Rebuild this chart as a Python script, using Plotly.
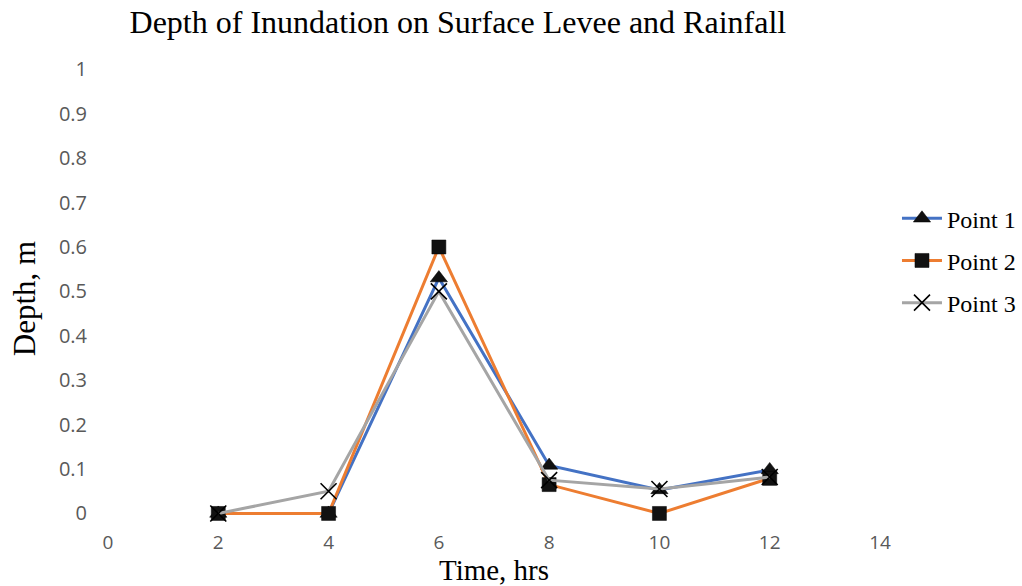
import plotly.graph_objects as go

time_hrs = [2, 4, 6, 8, 10, 12]
point1 = [0.0, 0.0, 0.53, 0.108, 0.053, 0.098]
point2 = [0.0, 0.0, 0.60, 0.065, 0.0, 0.079]
point3 = [0.0, 0.05, 0.50, 0.075, 0.055, 0.082]
series_names = ["Point 1", "Point 2", "Point 3"]
x_ticks = [0, 2, 4, 6, 8, 10, 12, 14]
y_ticks = [0, 0.1, 0.2, 0.3, 0.4, 0.5, 0.6, 0.7, 0.8, 0.9, 1]

SERIF = "Liberation Serif, Times New Roman, serif"
SANS = "Open Sans, Lato, sans-serif"

fig = go.Figure()
styles = [
    dict(color="#4472C4", symbol="triangle-up", size=15, lw=0.5),
    dict(color="#ED7D31", symbol="square", size=14, lw=0.5),
    dict(color="#A5A5A5", symbol="x-thin", size=16, lw=1.6),
]
for name, vals, st in zip(series_names, [point1, point2, point3], styles):
    fig.add_trace(go.Scatter(
        x=time_hrs, y=vals, name=name, legendgroup=name, mode="lines+markers",
        line=dict(color=st["color"], width=3),
        marker=dict(symbol=st["symbol"], size=st["size"], color="#111111",
                    line=dict(color="#000000", width=st["lw"])),
    ))

fig.update_layout(
    width=1022, height=586,
    margin=dict(l=108, r=142, t=68, b=57, autoexpand=False),
    paper_bgcolor="white", plot_bgcolor="white",
    title=dict(text="Depth of Inundation on Surface Levee and Rainfall",
               font=dict(family=SERIF, size=32, color="#000000"),
               x=0.448, xanchor="center", y=0.962, yanchor="middle"),
    legend=dict(x=1.022, y=0.722, xanchor="left", yanchor="top",
                font=dict(family=SERIF, size=24, color="#000000"),
                tracegroupgap=8, itemwidth=40, bgcolor="rgba(0,0,0,0)"),
    xaxis=dict(range=[0, 14], tickvals=x_ticks, showgrid=False, zeroline=False, showline=False,
               automargin=False, ticks="", tickfont=dict(family=SANS, size=19, color="#595959"),
               title=dict(text="Time, hrs", standoff=5,
                          font=dict(family=SERIF, size=29, color="#000000"))),
    yaxis=dict(range=[-0.035, 1.003], tickvals=y_ticks, showgrid=False, zeroline=False, showline=False,
               automargin=False, ticks="", ticklabelstandoff=20,
               tickfont=dict(family=SANS, size=20, color="#595959"),
               title=dict(text="Depth, m", standoff=14,
                          font=dict(family=SERIF, size=31, color="#000000"))),
)

fig.write_html("out.html")
